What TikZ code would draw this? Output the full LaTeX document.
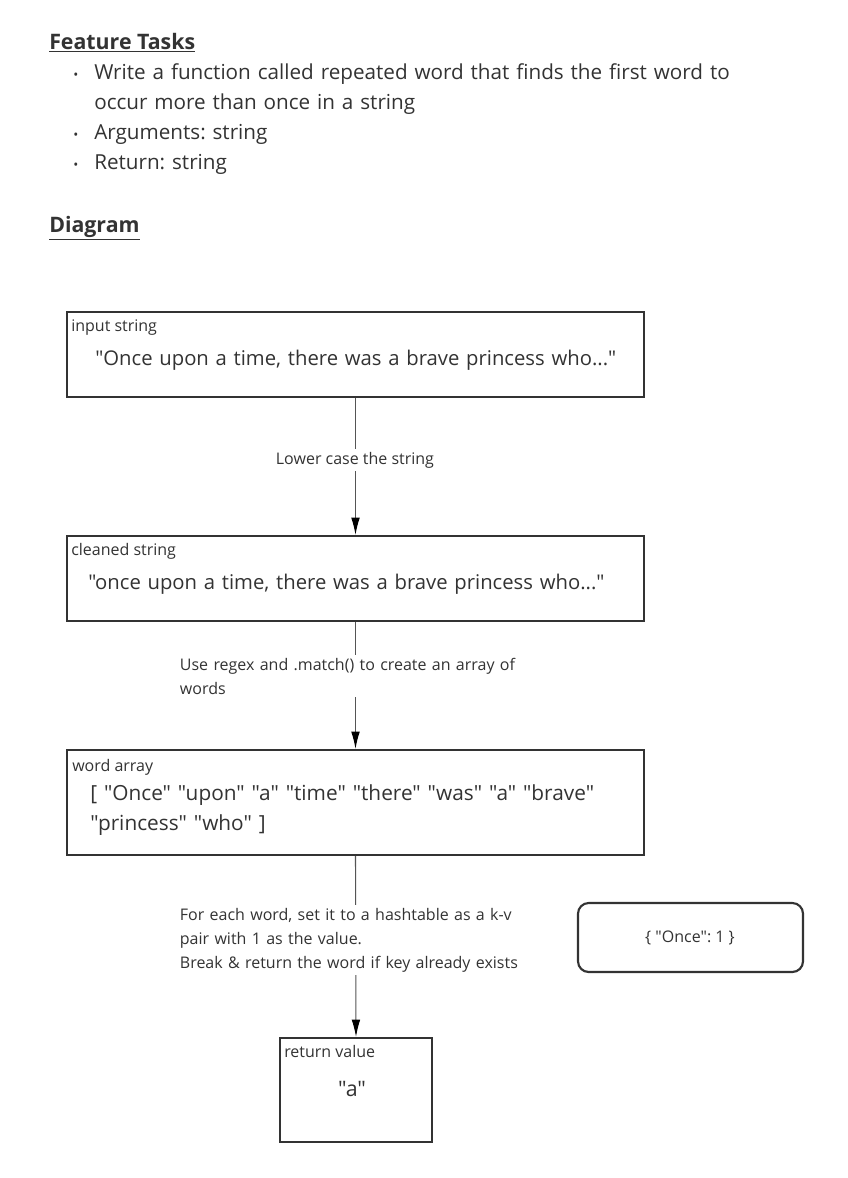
\documentclass[tikz,border=0pt]{standalone}
\usepackage{fontspec}
\setmainfont{Open Sans}[Ligatures=TeXOff]
\usetikzlibrary{arrows.meta,fit}
\definecolor{ink}{HTML}{333333}
\definecolor{wire}{HTML}{555555}
\frenchspacing
\tikzset{
  box/.style={draw=ink, line width=1.6pt, inner sep=0pt},
  rbox/.style={draw=ink, line width=1.6pt, inner sep=0pt, rounded corners=8pt},
  head/.style={anchor=base west, inner sep=0pt, text=ink, font=\bfseries\fontsize{16}{19}\selectfont},
  item/.style={anchor=base west, inner sep=0pt, text=ink, text width=560pt, align=left, font=\fontsize{15.5}{22.5}\selectfont},
  dotb/.style={anchor=base west, inner sep=0pt, text=ink, font=\fontsize{10}{12}\selectfont},
  lab/.style={anchor=base west, inner sep=0pt, text=ink, font=\fontsize{12}{14}\selectfont},
  big/.style={anchor=base west, inner sep=0pt, text=ink, text width=450pt, align=left, font=\fontsize{15.2}{22.5}\selectfont},
  arr/.style={draw=wire, line width=0.8pt, -{Latex[length=13pt,width=6.5pt,color=black]}},
  elab/.style={anchor=base west, fill=white, text=ink, inner sep=2pt, align=left, font=\fontsize{12}{18}\selectfont},
}
\begin{document}
\begin{tikzpicture}[x=0.75pt,y=-0.75pt]
\useasboundingbox[fill=white] (0,0) rectangle (848,1178);

% header
\node[head] (ft) at (49,49) {\underline{Feature Tasks}};
\node[dotb] (b1) at (73,79) {•};
\node[item] (i1) at (94,79) {Write a function called repeated word that finds the first word to\\occur more than once in a string};
\node[dotb] (b2) at (73,139) {•};
\node[item] (i2) at (94,139) {Arguments: string};
\node[dotb] (b3) at (73,169) {•};
\node[item] (i3) at (94,169) {Return: string};
\node[head] (dg) at (49,232) {\underline{Diagram}};

% boxes
\coordinate (a1) at (67,312); \coordinate (a2) at (644,397);
\node[box, fit=(a1)(a2)] (in) {};
\node[lab] (inl) at (71,331) {input string};
\node[big] (int) at (95,365) {"Once upon a time, there was a brave princess who..."};

\coordinate (c1) at (67,536); \coordinate (c2) at (644,621);
\node[box, fit=(c1)(c2)] (cl) {};
\node[lab] (cll) at (71,555) {cleaned string};
\node[big] (clt) at (88,589) {"once upon a time, there was a brave princess who..."};

\coordinate (w1) at (67,750); \coordinate (w2) at (644,855);
\node[box, fit=(w1)(w2)] (wa) {};
\node[lab] (wal) at (72,771) {word array};
\node[big, font=\fontsize{15.6}{22.5}\selectfont] (wat) at (90,800) {[ "Once" "upon" "a" "time" "there" "was" "a" "brave"\\"princess" "who" ]};

\coordinate (r1) at (280,1038); \coordinate (r2) at (432,1142);
\node[box, fit=(r1)(r2)] (rv) {};
\node[lab] (rvl) at (284,1057) {return value};
\node[anchor=base, inner sep=0pt, text=ink, font=\fontsize{16}{18}\selectfont] (rvt) at (352,1096) {"a"};

\coordinate (h1) at (578,903); \coordinate (h2) at (803,972);
\node[rbox, fit=(h1)(h2)] (hb) {};
\node[anchor=base, inner sep=0pt, text=ink, font=\fontsize{12}{14}\selectfont] (hbt) at (690,942) {\{ "Once": 1 \}};

% connectors
\draw[arr] (in.south) -- (cl.north);
\draw[arr] (cl.south) -- (wa.north);
\draw[arr] (wa.south) -- (rv.north);

% connector labels
\node[elab] (e1) at (273,464) {Lower case the string};
\node[elab, text width=270pt] (e2) at (177,670) { Use regex and .match() to create an array of\\words};
\node[elab, text width=270pt] (e3) at (177,920) {For each word, set it to a hashtable as a k-v\\pair with 1 as the value.\\Break \& return the word if key already exists};
\end{tikzpicture}
\end{document}
